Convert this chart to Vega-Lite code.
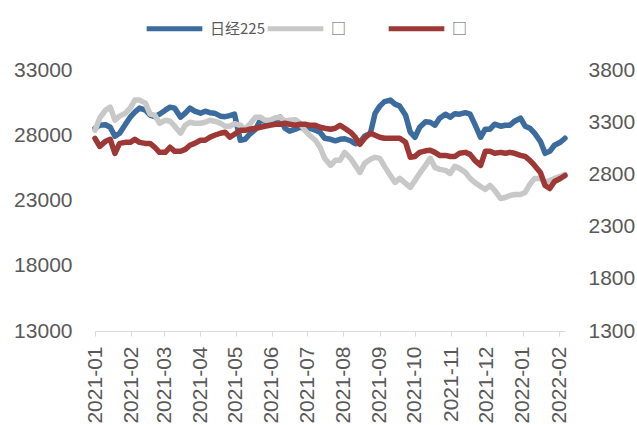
{
"$schema":"https://vega.github.io/schema/vega-lite/v6.json",
"width":470,"height":261,
"autosize":{"type":"none"},
"padding":{"left":95,"top":70,"right":72,"bottom":94},
"background":"white",
"config":{"view":{"stroke":null},"font":"Liberation Sans, Noto Sans CJK SC","axis":{"labelFont":"Liberation Sans","labelFontSize":21,"labelColor":"#595959","grid":false,"title":null}},
"data":{"values":[
{"d":"2021-01-01","a":28538,"b":28385,"c":3146},
{"d":"2021-01-05","a":28769,"b":29308,"c":3069},
{"d":"2021-01-10","a":28808,"b":29923,"c":3117},
{"d":"2021-01-14","a":28615,"b":30154,"c":3136},
{"d":"2021-01-18","a":27923,"b":29154,"c":3002},
{"d":"2021-01-22","a":28154,"b":29462,"c":3097},
{"d":"2021-01-27","a":28846,"b":29692,"c":3107},
{"d":"2021-01-31","a":29385,"b":30077,"c":3107},
{"d":"2021-02-04","a":29769,"b":30692,"c":3136},
{"d":"2021-02-08","a":30077,"b":30692,"c":3107},
{"d":"2021-02-13","a":29923,"b":30462,"c":3097},
{"d":"2021-02-17","a":29538,"b":29615,"c":3097},
{"d":"2021-02-21","a":29423,"b":29538,"c":3060},
{"d":"2021-02-25","a":29615,"b":28923,"c":3011},
{"d":"2021-03-02","a":29923,"b":29154,"c":3011},
{"d":"2021-03-06","a":30154,"b":29077,"c":3060},
{"d":"2021-03-10","a":30077,"b":28692,"c":3021},
{"d":"2021-03-15","a":29385,"b":28154,"c":3021},
{"d":"2021-03-19","a":29692,"b":28769,"c":3040},
{"d":"2021-03-23","a":30077,"b":29000,"c":3079},
{"d":"2021-03-27","a":29846,"b":28923,"c":3097},
{"d":"2021-04-01","a":29692,"b":28923,"c":3127},
{"d":"2021-04-05","a":29846,"b":29000,"c":3127},
{"d":"2021-04-09","a":29731,"b":29154,"c":3156},
{"d":"2021-04-13","a":29692,"b":29077,"c":3175},
{"d":"2021-04-18","a":29462,"b":28923,"c":3194},
{"d":"2021-04-22","a":29423,"b":28692,"c":3204},
{"d":"2021-04-26","a":29500,"b":28692,"c":3156},
{"d":"2021-04-30","a":29615,"b":28885,"c":3185},
{"d":"2021-05-05","a":27615,"b":28769,"c":3222},
{"d":"2021-05-09","a":27692,"b":28462,"c":3222},
{"d":"2021-05-13","a":28077,"b":28846,"c":3232},
{"d":"2021-05-18","a":28462,"b":29385,"c":3242},
{"d":"2021-05-22","a":29154,"b":29385,"c":3252},
{"d":"2021-05-26","a":29077,"b":29154,"c":3261},
{"d":"2021-05-30","a":28923,"b":29154,"c":3271},
{"d":"2021-06-04","a":29115,"b":29346,"c":3281},
{"d":"2021-06-08","a":29385,"b":29385,"c":3281},
{"d":"2021-06-12","a":28538,"b":29077,"c":3290},
{"d":"2021-06-16","a":28308,"b":29154,"c":3281},
{"d":"2021-06-21","a":28462,"b":29192,"c":3271},
{"d":"2021-06-25","a":28615,"b":28923,"c":3281},
{"d":"2021-06-29","a":28538,"b":28385,"c":3281},
{"d":"2021-07-03","a":28538,"b":28000,"c":3271},
{"d":"2021-07-08","a":28385,"b":27615,"c":3271},
{"d":"2021-07-12","a":28231,"b":27077,"c":3252},
{"d":"2021-07-16","a":27769,"b":26231,"c":3242},
{"d":"2021-07-21","a":27692,"b":25692,"c":3232},
{"d":"2021-07-25","a":27577,"b":26077,"c":3242},
{"d":"2021-07-29","a":27692,"b":26077,"c":3271},
{"d":"2021-08-02","a":27731,"b":26692,"c":3242},
{"d":"2021-08-07","a":27577,"b":26231,"c":3204},
{"d":"2021-08-11","a":27346,"b":25692,"c":3156},
{"d":"2021-08-15","a":27462,"b":25154,"c":3089},
{"d":"2021-08-19","a":27923,"b":25846,"c":3146},
{"d":"2021-08-24","a":28154,"b":26154,"c":3194},
{"d":"2021-08-28","a":29692,"b":26308,"c":3175},
{"d":"2021-09-01","a":30231,"b":26231,"c":3156},
{"d":"2021-09-05","a":30577,"b":25615,"c":3146},
{"d":"2021-09-10","a":30692,"b":24923,"c":3146},
{"d":"2021-09-14","a":30385,"b":24385,"c":3146},
{"d":"2021-09-18","a":30231,"b":24692,"c":3146},
{"d":"2021-09-23","a":29538,"b":24308,"c":3107},
{"d":"2021-09-27","a":28231,"b":24000,"c":2964},
{"d":"2021-10-01","a":27846,"b":24538,"c":2972},
{"d":"2021-10-05","a":28615,"b":25077,"c":3011},
{"d":"2021-10-10","a":29038,"b":25692,"c":3026},
{"d":"2021-10-14","a":29000,"b":26231,"c":3031},
{"d":"2021-10-18","a":28769,"b":25538,"c":3011},
{"d":"2021-10-22","a":29308,"b":25385,"c":2982},
{"d":"2021-10-27","a":29615,"b":25308,"c":2982},
{"d":"2021-10-31","a":29385,"b":25077,"c":2972},
{"d":"2021-11-04","a":29654,"b":25615,"c":2972},
{"d":"2021-11-08","a":29615,"b":25462,"c":3002},
{"d":"2021-11-13","a":29731,"b":25154,"c":3011},
{"d":"2021-11-17","a":29615,"b":24692,"c":2992},
{"d":"2021-11-21","a":28846,"b":24385,"c":2935},
{"d":"2021-11-26","a":27846,"b":24077,"c":2886},
{"d":"2021-11-30","a":28462,"b":23846,"c":3021},
{"d":"2021-12-04","a":28462,"b":24154,"c":3021},
{"d":"2021-12-08","a":28846,"b":23769,"c":3002},
{"d":"2021-12-13","a":28692,"b":23154,"c":3011},
{"d":"2021-12-17","a":28769,"b":23231,"c":3002},
{"d":"2021-12-21","a":28769,"b":23385,"c":3011},
{"d":"2021-12-25","a":29077,"b":23462,"c":3002},
{"d":"2021-12-30","a":29308,"b":23462,"c":2982},
{"d":"2022-01-03","a":28692,"b":23615,"c":2972},
{"d":"2022-01-07","a":28538,"b":24231,"c":2935},
{"d":"2022-01-11","a":28154,"b":24692,"c":2886},
{"d":"2022-01-16","a":27538,"b":24692,"c":2819},
{"d":"2022-01-20","a":26615,"b":24385,"c":2694},
{"d":"2022-01-24","a":26769,"b":24538,"c":2665},
{"d":"2022-01-28","a":27231,"b":24692,"c":2732},
{"d":"2022-02-02","a":27462,"b":24846,"c":2761},
{"d":"2022-02-06","a":27769,"b":25000,"c":2790}
]},
"encoding":{"x":{"field":"d","type":"temporal","scale":{"type":"utc","domain":[{"year":2021,"month":1,"date":1,"utc":true},{"year":2022,"month":2,"date":6,"utc":true}]},
 "axis":{"format":"%Y-%m","tickCount":{"interval":"month","step":1},"labelAngle":-90,"domainColor":"#d9d9d9","tickColor":"#d9d9d9","tickSize":5,"labelPadding":10,"labelFont":"Liberation Sans"}}},
"layer":[
 {"layer":[
  {"mark":{"type":"line","strokeWidth":5.5,"strokeJoin":"round","strokeCap":"round"},
   "encoding":{"y":{"field":"a","type":"quantitative","scale":{"domain":[13000,33000],"nice":false,"zero":false},"axis":{"orient":"left","domain":false,"ticks":false,"labelPadding":23,"format":"d","values":[13000,18000,23000,28000,33000]}},
    "color":{"datum":"a","scale":{"domain":["a","b","c"],"range":["#3C6B9E","#C8C8C8","#9E3836"]},
     "legend":{"orient":"none","legendX":49,"legendY":-72,"direction":"horizontal","columns":3,"gridAlign":"all","symbolType":"stroke","symbolSize":3100,"symbolStrokeWidth":5,"labelFontSize":15,"labelColor":"#595959","labelFont":"Noto Sans CJK SC","title":null,"labelExpr":"datum.label == 'a' ? '日经225' : '□'","columnPadding":-10,"labelOffset":5}}}},
  {"mark":{"type":"line","strokeWidth":5.5,"strokeJoin":"round","strokeCap":"round"},
   "encoding":{"y":{"field":"b","type":"quantitative"},"color":{"datum":"b"}}}
 ]},
 {"mark":{"type":"line","strokeWidth":5.5,"strokeJoin":"round","strokeCap":"round"},
  "encoding":{"y":{"field":"c","type":"quantitative","scale":{"domain":[1300,3800],"nice":false,"zero":false},"axis":{"orient":"right","domain":false,"ticks":false,"labelPadding":23,"format":"d","values":[1300,1800,2300,2800,3300,3800]}},"color":{"datum":"c"}}}
],
"resolve":{"scale":{"y":"independent"}}
}
